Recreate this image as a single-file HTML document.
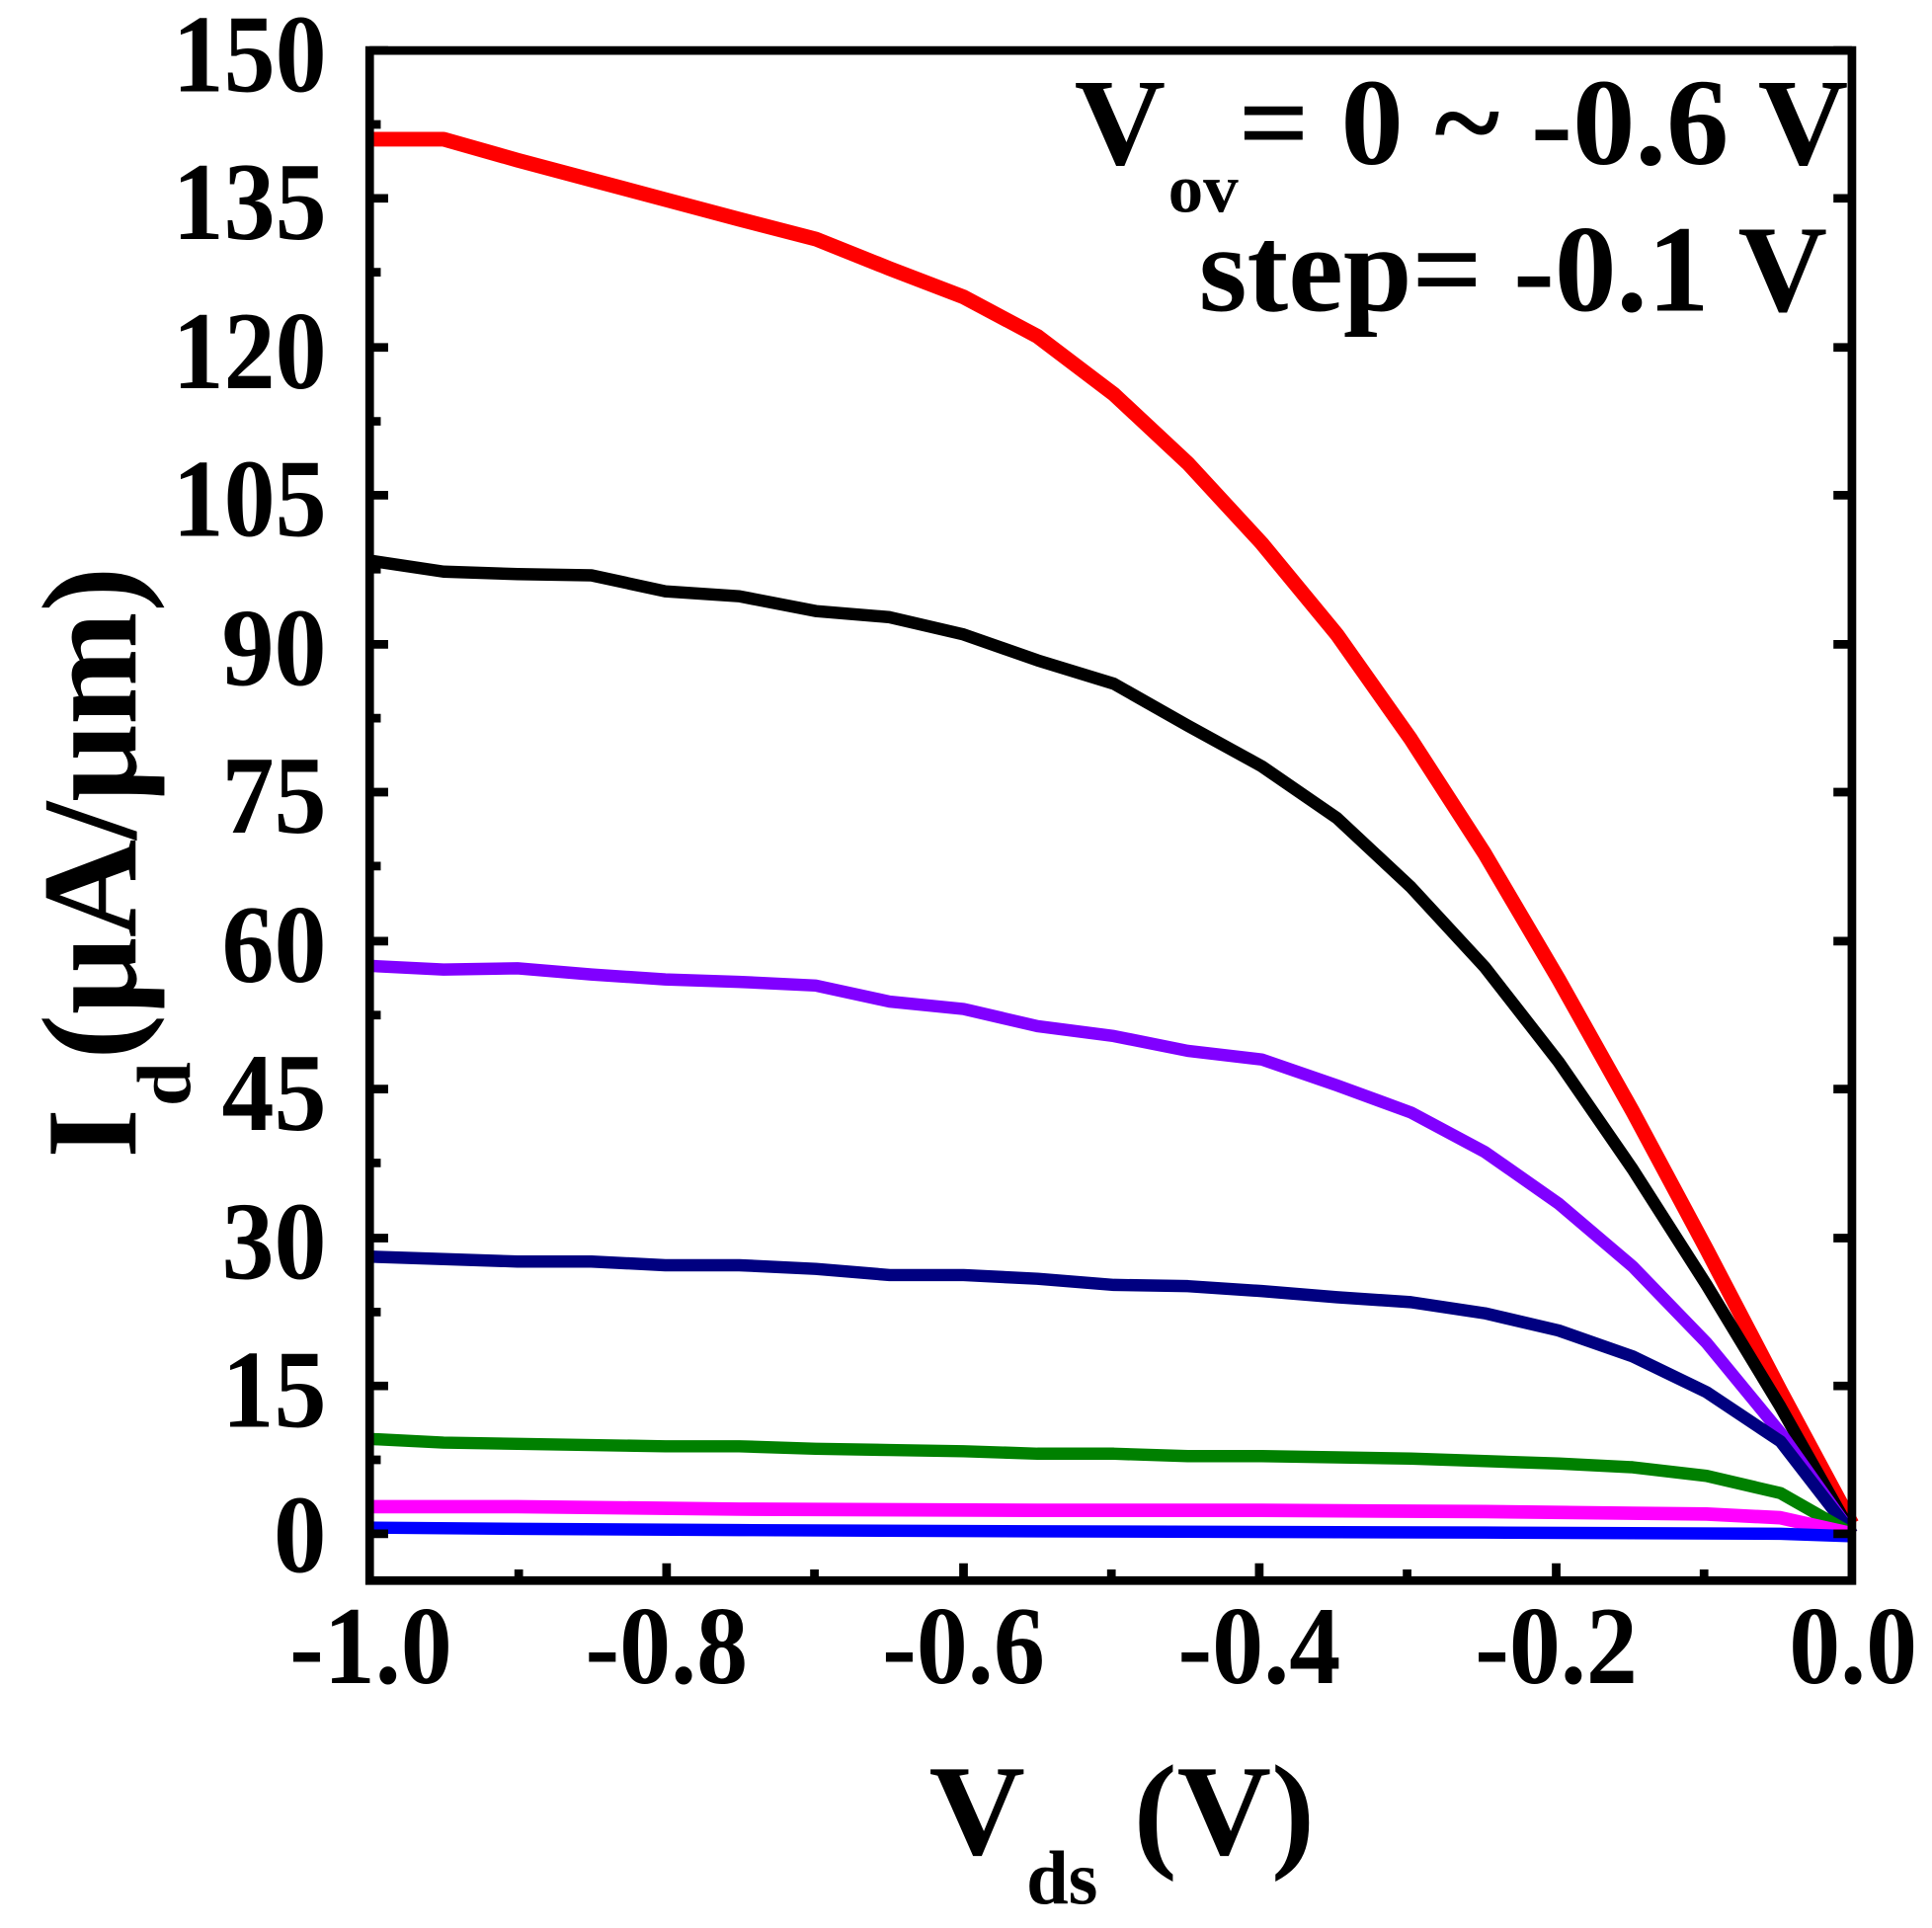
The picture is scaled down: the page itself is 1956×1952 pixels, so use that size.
<!DOCTYPE html>
<html><head><meta charset="utf-8"><style>html,body{margin:0;padding:0;background:#fff}svg{display:block}</style></head>
<body>
<svg width="1956" height="1952" viewBox="0 0 1568 1565" preserveAspectRatio="none" xmlns="http://www.w3.org/2000/svg" font-family="Liberation Serif, serif" font-weight="bold">
<rect width="1568" height="1565" fill="#fff"/>
<g fill="none" stroke-linejoin="round">
<polyline stroke="#ff0000" stroke-width="12" points="300,113 360,113 420,130 480,146 540,162 600,178 662,194 722,218 782,241 842,273 904,320 964,376 1024,441 1085,515 1145,600 1205,693 1265,795 1325,902 1385,1014 1445,1129 1503,1237"/>
<polyline stroke="#000" stroke-width="10" points="300,455 360,464 420,466 480,467 540,480 600,484 662,496 722,501 782,515 842,536 904,555 964,589 1024,622 1085,664 1145,720 1205,785 1265,862 1325,949 1385,1043 1445,1142 1503,1245"/>
<polyline stroke="#8000ff" stroke-width="10" points="300,784 360,787 420,786 480,791 540,795 600,797 662,800 722,813 782,819 842,833 904,841 964,853 1024,860 1085,881 1145,903 1205,935 1265,977 1325,1028 1385,1090 1445,1163 1503,1245"/>
<polyline stroke="#000080" stroke-width="10" points="300,1020 360,1022 420,1024 480,1024 540,1027 600,1027 662,1030 722,1035 782,1035 842,1038 904,1043 964,1044 1024,1048 1085,1053 1145,1057 1205,1066 1265,1080 1325,1101 1385,1130 1445,1170 1503,1245"/>
<polyline stroke="#008000" stroke-width="10" points="300,1168 360,1171 420,1172 480,1173 540,1174 600,1174 662,1176 722,1177 782,1178 842,1180 904,1180 964,1182 1024,1182 1085,1183 1145,1184 1205,1186 1265,1188 1325,1191 1385,1198 1445,1212 1503,1245"/>
<polyline stroke="#ff00ff" stroke-width="11" points="300,1223 420,1223 600,1225 842,1226 1024,1226 1205,1227 1385,1229 1445,1232 1503,1245"/>
<polyline stroke="#0000ff" stroke-width="10" points="300,1240 420,1241 600,1242 842,1243 1205,1244 1445,1245 1503,1247"/>
</g>
<rect x="300" y="41" width="1203" height="1242" fill="none" stroke="#000" stroke-width="7"/>
<g stroke="#000" stroke-width="7">
<path d="M300,41h15M300,161h15M300,282h15M300,402h15M300,523h15M300,643h15M300,764h15M300,884h15M300,1005h15M300,1125h15M300,1245h15"/>
<path d="M300,101h9M300,221h9M300,342h9M300,462h9M300,583h9M300,703h9M300,824h9M300,944h9M300,1065h9M300,1185h9"/>
<path d="M1503,41h-15M1503,161h-15M1503,282h-15M1503,402h-15M1503,523h-15M1503,643h-15M1503,764h-15M1503,884h-15M1503,1005h-15M1503,1125h-15M1503,1245h-15"/>
<path d="M541,1283v-14M782,1283v-14M1022,1283v-14M1263,1283v-14M421,1283v-9M661,1283v-9M902,1283v-9M1142,1283v-9M1383,1283v-9"/>
</g>
<g font-size="90" lengthAdjust="spacingAndGlyphs">
<text x="140" y="74" textLength="125" lengthAdjust="spacingAndGlyphs">150</text>
<text x="140" y="194" textLength="125" lengthAdjust="spacingAndGlyphs">135</text>
<text x="140" y="315" textLength="125" lengthAdjust="spacingAndGlyphs">120</text>
<text x="140" y="435" textLength="125" lengthAdjust="spacingAndGlyphs">105</text>
<text x="180" y="556" textLength="85" lengthAdjust="spacingAndGlyphs">90</text>
<text x="180" y="676" textLength="85" lengthAdjust="spacingAndGlyphs">75</text>
<text x="180" y="797" textLength="85" lengthAdjust="spacingAndGlyphs">60</text>
<text x="180" y="917" textLength="85" lengthAdjust="spacingAndGlyphs">45</text>
<text x="180" y="1038" textLength="85" lengthAdjust="spacingAndGlyphs">30</text>
<text x="180" y="1158" textLength="85" lengthAdjust="spacingAndGlyphs">15</text>
<text x="222" y="1276" textLength="43" lengthAdjust="spacingAndGlyphs">0</text>
</g>
<g font-size="90">
<text x="235" y="1366" textLength="132" lengthAdjust="spacingAndGlyphs">-1.0</text>
<text x="475" y="1366" textLength="132" lengthAdjust="spacingAndGlyphs">-0.8</text>
<text x="716" y="1366" textLength="132" lengthAdjust="spacingAndGlyphs">-0.6</text>
<text x="956" y="1366" textLength="132" lengthAdjust="spacingAndGlyphs">-0.4</text>
<text x="1197" y="1366" textLength="132" lengthAdjust="spacingAndGlyphs">-0.2</text>
<text x="1452" y="1366" textLength="104" lengthAdjust="spacingAndGlyphs">0.0</text>
</g>
<text x="754" y="1505" font-size="105" textLength="78" lengthAdjust="spacingAndGlyphs">V</text>
<text x="833" y="1545" font-size="62" textLength="58" lengthAdjust="spacingAndGlyphs">ds</text>
<text x="920" y="1505" font-size="105" textLength="147" lengthAdjust="spacingAndGlyphs">(V)</text>
<g transform="translate(110,940) rotate(-90)">
<text x="0" y="0" font-size="105" textLength="40" lengthAdjust="spacingAndGlyphs">I</text>
<text x="42" y="44" font-size="62" textLength="36" lengthAdjust="spacingAndGlyphs">d</text>
<text x="80" y="0" font-size="110" textLength="400" lengthAdjust="spacingAndGlyphs">(μA/μm)</text>
</g>
<text x="872" y="133" font-size="100" textLength="74" lengthAdjust="spacingAndGlyphs">V</text>
<text x="948" y="172" font-size="56" textLength="57" lengthAdjust="spacingAndGlyphs">ov</text>
<text x="1005" y="133" font-size="100" textLength="495" lengthAdjust="spacingAndGlyphs">= 0 ~ -0.6 V</text>
<text x="973" y="252" font-size="100" textLength="510" lengthAdjust="spacingAndGlyphs">step= -0.1 V</text>
</svg>
</body></html>
